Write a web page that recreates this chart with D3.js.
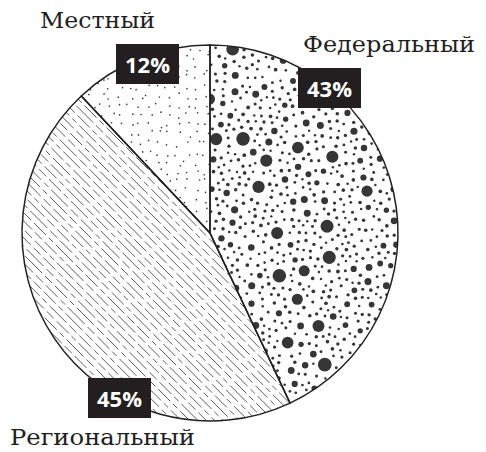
<!DOCTYPE html>
<html><head><meta charset="utf-8">
<script src="https://cdn.jsdelivr.net/npm/d3@7"></script>
<style>body{margin:0;background:#fff}svg{display:block}</style>
</head><body>
<script>
const categories = ["Федеральный", "Региональный", "Местный"];
const values = [43, 45, 12];
const percentLabels = ["43%", "45%", "12%"];

const W = 486, H = 452, cx = 210, cy = 233, R = 188;
const svg = d3.select("body").append("svg").attr("width", W).attr("height", H);
svg.append("rect").attr("width", W).attr("height", H).attr("fill", "#fff");
const defs = svg.append("defs");
const g = svg.append("g").attr("transform", `translate(${cx},${cy})`);

const pie = d3.pie().sort(null).value(d => d)(values);
const arc = d3.arc().innerRadius(0).outerRadius(R);

// seeded generator (texture only)
let s = 987654321;
function rnd() {
  s |= 0; s = s + 0x6D2B79F5 | 0;
  let t = Math.imul(s ^ s >>> 15, 1 | s);
  t = t + Math.imul(t ^ t >>> 7, 61 | t) ^ t;
  return ((t ^ t >>> 14) >>> 0) / 4294967296;
}

pie.forEach((p, i) => {
  defs.append("clipPath").attr("id", "clip" + i).append("path").attr("d", arc(p));
});

// Federal texture: dots of varying sizes with minimum spacing
const fed = g.append("g").attr("clip-path", "url(#clip0)");
const placedDots = [];
function inFed(x, y) {
  if (x < -3 || x * x + y * y > (R + 6) * (R + 6)) return false;
  const a = Math.atan2(x, -y); const ang = a < 0 ? a + 2 * Math.PI : a;
  return ang <= pie[0].endAngle + 0.06 || x < 3;
}
function scatter(n, rmin, rmax, gap) {
  let placed = 0, tries = 0;
  while (placed < n && tries < n * 60) {
    tries++;
    const x = (rnd() * 2 - 1) * R, y = (rnd() * 2 - 1) * R;
    if (!inFed(x, y)) continue;
    const r = rmin + rnd() * (rmax - rmin);
    let ok = true;
    for (const d of placedDots) {
      const dx = d[0] - x, dy = d[1] - y, m = d[2] + r + gap;
      if (dx * dx + dy * dy < m * m) { ok = false; break; }
    }
    if (!ok) continue;
    placedDots.push([x, y, r]);
    fed.append("circle").attr("cx", x).attr("cy", y).attr("r", r).attr("fill", "#363636");
    placed++;
  }
}
scatter(20, 5.5, 7.0, 8);
scatter(85, 2.6, 3.6, 4);
scatter(650, 1.2, 1.9, 3.2);

// Regional texture: diagonal dashed lines
const reg = g.append("g").attr("clip-path", "url(#clip1)");
const step = 8.4;
for (let k = -2 * R; k <= 2 * R; k += step) {
  reg.append("line")
    .attr("x1", k - R - 20).attr("y1", -R - 20)
    .attr("x2", k + R + 20).attr("y2", R + 20)
    .attr("stroke", "#555").attr("stroke-width", 0.95)
    .attr("stroke-dasharray", "17,4,6,4,24,4,10,4")
    .attr("stroke-dashoffset", Math.floor(rnd() * 80));
}

// Local texture: fine sparse dots
const loc = g.append("g").attr("clip-path", "url(#clip2)");
for (let x = -R; x < 0; x += 9.5) {
  for (let y = -R; y < 0; y += 9.5) {
    loc.append("circle").attr("cx", x + rnd() * 7).attr("cy", y + rnd() * 7).attr("r", 0.85).attr("fill", "#444");
  }
}

// slice outlines
g.selectAll("path.slice").data(pie).enter().append("path")
  .attr("class", "slice").attr("d", arc)
  .attr("fill", "none").attr("stroke", "#222").attr("stroke-width", 1.5);

// category labels
const catPos = [[303, 52, 172], [10, 445, 185], [40, 28, 115]];
categories.forEach((c, i) => {
  svg.append("text").attr("x", catPos[i][0]).attr("y", catPos[i][1])
    .attr("font-family", "'DejaVu Serif', serif").attr("font-size", 23)
    .attr("fill", "#1e1e1e").attr("textLength", catPos[i][2]).attr("lengthAdjust", "spacingAndGlyphs")
    .text(c);
});

// percent boxes
const boxPos = [[298, 68], [88, 378], [116, 44]];
percentLabels.forEach((t, i) => {
  const [bx, by] = boxPos[i];
  svg.append("rect").attr("x", bx).attr("y", by).attr("width", 63).attr("height", 40).attr("fill", "#231f20");
  svg.append("text").attr("x", bx + 31.5).attr("y", by + 29).attr("text-anchor", "middle")
    .attr("font-family", "'Open Sans', sans-serif").attr("font-weight", 700).attr("font-size", 22)
    .attr("fill", "#fff").text(t);
});
</script>
</body></html>
